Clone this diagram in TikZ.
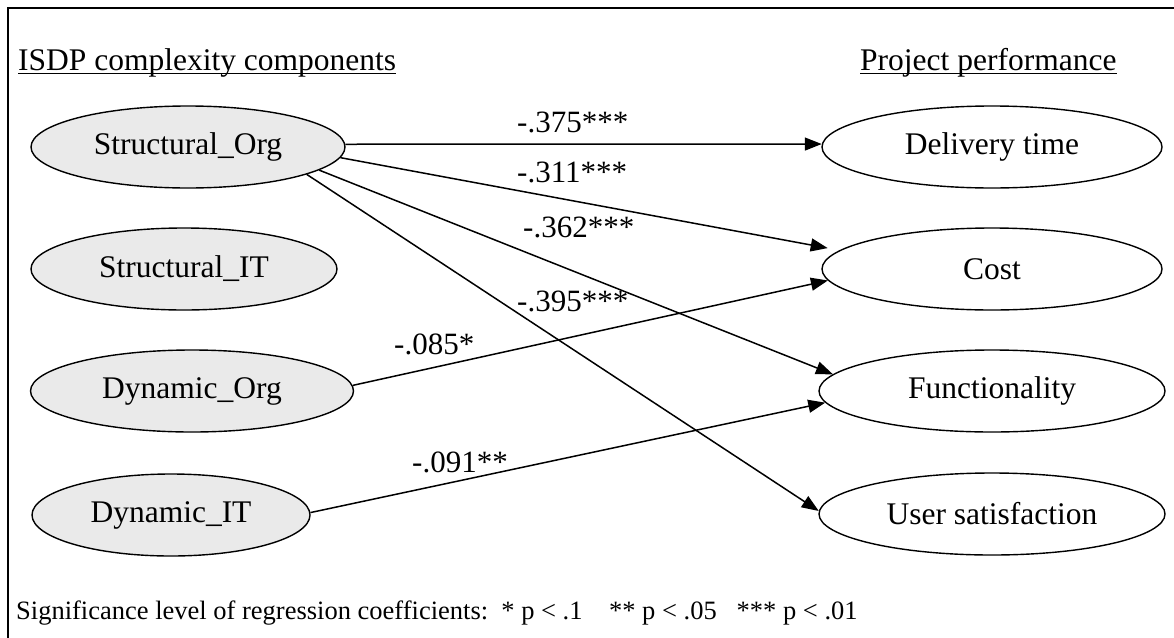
\documentclass[tikz,border=0pt]{standalone}
\usepackage{fontspec}
\setmainfont{Liberation Serif}
\usetikzlibrary{shapes.geometric,arrows.meta}
\definecolor{ovalgrey}{HTML}{EAEAEA}
\tikzset{
  oval/.style={ellipse, draw=black, line width=1.4pt, inner sep=0pt, minimum height=82pt, font=\fontsize{31.5}{36}\selectfont},
  src/.style={oval, fill=ovalgrey},
  dst/.style={oval, fill=white},
  coef/.style={anchor=base west, inner sep=0pt, font=\fontsize{31}{35}\selectfont},
  hdr/.style={anchor=base west, inner sep=0pt, font=\fontsize{31.5}{36}\selectfont},
  link/.style={line width=1.5pt, -{Triangle[length=17pt,width=13pt]}},
  frameline/.style={line width=2pt},
  uline/.style={line width=1.5pt},
}
\begin{document}
\begin{tikzpicture}[x=1pt,y=-1pt]
\useasboundingbox (0,0) rectangle (1174,637);
\draw[frameline] (1176,8) -- (8,8) -- (8,640);

% headers
\node[hdr] (hL) at (18,70) {ISDP complexity components};
\node[hdr] (hR) at (860,70) {Project performance};
\draw[uline] ([yshift=-3.5pt]hL.base west) -- ([yshift=-3.5pt]hL.base east);
\draw[uline] ([yshift=-3.5pt]hR.base west) -- ([yshift=-3.5pt]hR.base east);

% complexity components
\node[src, minimum width=314pt] (SO) at (188,147) {Structural\_Org};
\node[src, minimum width=306pt] (SI) at (184,269) {Structural\_IT};
\node[src, minimum width=323pt] (DO) at (192,391) {Dynamic\_Org};
\node[src, minimum width=278pt] (DI) at (171,515) {Dynamic\_IT};

% performance
\node[dst, minimum width=340pt] (DT) at (992,147) {Delivery time};
\node[dst, minimum width=340pt] (CO) at (992,269) {Cost};
\node[dst, minimum width=346pt] (FU) at (992,391) {Functionality};
\node[dst, minimum width=346pt] (US) at (992,514) {User satisfaction};

% connectors
\draw[link] (SO.1) -- (DT.179);
\draw[link, shorten >=12pt] (SO.-4) -- (CO.173);
\draw[link] (SO.-10) -- (FU.174);
\draw[link] (SO.-13) -- (US.179);
\draw[link] (DO.2) -- (CO.184);
\draw[link] (DI.1) -- (FU.184);

% coefficients
\node[coef] (c1) at (517,132) {-.375***};
\node[coef] (c2) at (517,182) {-.311***};
\node[coef] (c3) at (523,237) {-.362***};
\node[coef] (c4) at (517,311) {-.395***};
\node[coef] (c5) at (394,354) {-.085*};
\node[coef] (c6) at (412,472) {-.091**};

% note
\node[anchor=base west, inner sep=0pt, font=\fontsize{26.5}{30}\selectfont] (note) at (16,619)
  {Significance level of regression coefficients:\ \ * p < .1\ \ \ \ ** p < .05\ \ \ *** p < .01};
\end{tikzpicture}
\end{document}
